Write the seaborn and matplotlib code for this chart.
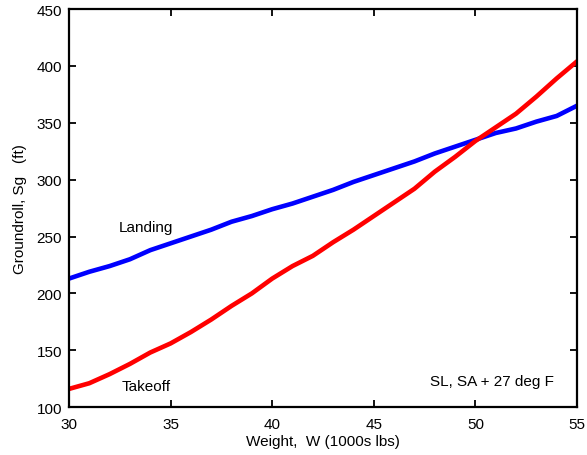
import matplotlib
matplotlib.use("Agg")
import matplotlib.pyplot as plt
import seaborn as sns
import pandas as pd

# Aircraft weight, thousands of lbs
weight = [30, 31, 32, 33, 34, 35, 36, 37, 38, 39, 40, 41, 42,
          43, 44, 45, 46, 47, 48, 49, 50, 51, 52, 53, 54, 55]

# Ground roll distance (ft)
landing = [213, 219, 224, 230, 238, 244, 250, 256, 263, 268, 274, 279, 285,
           291, 298, 304, 310, 316, 323, 329, 335, 341, 345, 351, 356, 365]
takeoff = [116, 121, 129, 138, 148, 156, 166, 177, 189, 200, 213, 224, 233,
           245, 256, 268, 280, 292, 307, 320, 334, 346, 358, 373, 389, 404]

x_ticks = [30, 35, 40, 45, 50, 55]
y_ticks = [100, 150, 200, 250, 300, 350, 400, 450]

sns.set_style("ticks")
plt.rcParams["font.family"] = ["Liberation Sans", "DejaVu Sans"]
plt.rcParams["text.color"] = "black"
plt.rcParams["axes.labelcolor"] = "black"

df = pd.DataFrame({"W": weight, "Landing": landing, "Takeoff": takeoff})

fig = plt.figure(figsize=(5.87, 4.56), dpi=100)
ax = fig.add_axes([0.1175, 0.105, 0.8655, 0.873])

sns.lineplot(data=df, x="W", y="Landing", ax=ax, color="#0000ff", linewidth=3.3)
sns.lineplot(data=df, x="W", y="Takeoff", ax=ax, color="#ff0000", linewidth=3.3)

ax.set_xlim(30, 55)
ax.set_ylim(100, 450)
ax.set_xticks(x_ticks)
ax.set_yticks(y_ticks)
ax.tick_params(direction="in", top=True, right=True, length=5, width=1.3,
               labelsize=11, colors="black")
ax.tick_params(axis="x", pad=7)
ax.tick_params(axis="y", pad=5)
for s in ax.spines.values():
    s.set_linewidth(1.6)
    s.set_color("black")

ax.set_xlabel("Weight,  W (1000s lbs)", fontsize=11, labelpad=2)
ax.set_ylabel("Groundroll, Sg   (ft)", fontsize=11, labelpad=7)

ax.text(33.8, 258, "Landing", fontsize=11, ha="center", va="center")
ax.text(33.8, 118.5, "Takeoff", fontsize=11, ha="center", va="center")
ax.text(50.8, 123, "SL, SA + 27 deg F", fontsize=11, ha="center", va="center")

fig.savefig("out.png", dpi=100)
